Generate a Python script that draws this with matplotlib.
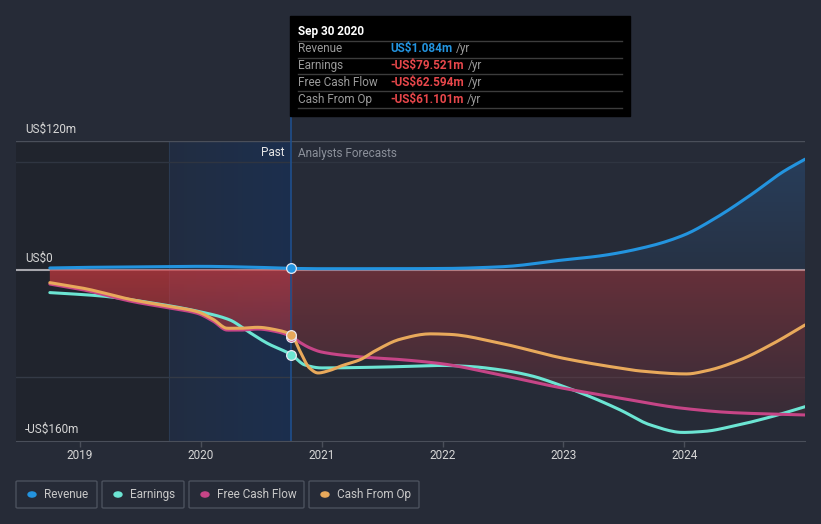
import numpy as np
import matplotlib.pyplot as plt
from matplotlib.patches import Rectangle, FancyBboxPatch
from matplotlib.lines import Line2D

plt.rcParams.update({
    "font.family": ["Roboto", "DejaVu Sans"],
    "font.size": 8.5,
})

W, H = 821, 524
BG = "#262b37"

# ------------------------------------------------------------
# data (decimal years, US$ m)
# ------------------------------------------------------------
rev_x = [2018.75, 2019.0, 2019.5, 2020.0, 2020.5, 2020.75, 2021.0, 2021.5, 2022.0,
         2022.5, 2023.0, 2023.3, 2023.72, 2024.0, 2024.27, 2024.55, 2024.82, 2025.0]
rev_y = [1.5, 2.0, 2.5, 3.0, 2.0, 1.084, 0.8, 0.8, 1.0,
         2.7, 9.0, 12.7, 22.0, 32.3, 48.8, 69.6, 91.4, 103.0]

earn_x = [2018.75, 2019.17, 2019.58, 2019.99, 2020.24, 2020.38, 2020.55, 2020.75,
          2020.86, 2021.0, 2021.5, 2022.0, 2022.23, 2022.48, 2022.73, 2023.0,
          2023.23, 2023.47, 2023.72, 2023.99, 2024.17, 2024.41, 2024.7, 2025.0]
earn_y = [-21.5, -24.6, -30.9, -39.3, -47.0, -57.0, -68.8, -79.521,
          -89.0, -91.8, -91.0, -89.5, -90.5, -93.6, -99.0, -109.0,
          -119.0, -131.0, -145.0, -152.0, -151.0, -146.0, -138.0, -128.0]

cfo_x = [2018.75, 2019.03, 2019.44, 2019.72, 2019.97, 2020.10, 2020.22, 2020.32,
         2020.47, 2020.63, 2020.75, 2020.82, 2020.90, 2020.97, 2021.07, 2021.16,
         2021.32, 2021.44, 2021.65, 2021.90, 2022.06, 2022.48, 2023.0, 2023.47,
         2023.64, 2024.02, 2024.19, 2024.46, 2024.74, 2025.0]
cfo_y = [-12.2, -17.5, -28.4, -34.0, -39.3, -46.3, -54.8, -54.8,
         -53.9, -56.4, -61.101, -76.0, -92.0, -96.5, -94.0, -90.0,
         -84.0, -76.0, -65.0, -60.0, -60.5, -68.8, -82.8, -92.0,
         -94.7, -97.4, -94.3, -84.4, -68.8, -51.7]

fcf_x = [2018.75, 2019.03, 2019.44, 2019.72, 2019.97, 2020.10, 2020.22, 2020.32,
         2020.47, 2020.63, 2020.75, 2020.82, 2020.90, 2021.0, 2021.32, 2021.65,
         2022.0, 2022.48, 2023.0, 2023.47, 2023.99, 2024.41, 2025.0]
fcf_y = [-13.5, -19.0, -30.0, -35.5, -40.8, -48.0, -56.5, -56.5,
         -55.5, -58.0, -62.594, -68.0, -73.0, -77.0, -81.5, -84.0,
         -88.0, -98.4, -110.8, -120.0, -129.5, -133.6, -135.7]

years = [2019, 2020, 2021, 2022, 2023, 2024]
now_x = 2020.747
past_start = 2019.74
x_min, x_max = 2018.47, 2025.0
y_min, y_max = -160, 120

C_REV = "#2394df"
C_EARN = "#6ce5d3"
C_FCF = "#c64587"
C_CFO = "#e8a95b"


def px(x, y):
    return x / W, 1 - y / H


def smooth(x, y, n=12):
    # monotone cubic (pchip) curve through the read points, for drawing only
    x = np.asarray(x, float)
    y = np.asarray(y, float)
    h = np.diff(x)
    d = np.diff(y) / h
    m = np.zeros_like(y)
    for k in range(1, len(x) - 1):
        if d[k - 1] * d[k] > 0:
            w1 = 2 * h[k] + h[k - 1]
            w2 = h[k] + 2 * h[k - 1]
            m[k] = (w1 + w2) / (w1 / d[k - 1] + w2 / d[k])
    m[0], m[-1] = d[0], d[-1]
    xs, ys = [], []
    for k in range(len(x) - 1):
        t = np.linspace(0, 1, n, endpoint=False)
        h00 = 2 * t**3 - 3 * t**2 + 1
        h10 = t**3 - 2 * t**2 + t
        h01 = -2 * t**3 + 3 * t**2
        h11 = t**3 - t**2
        xs.append(x[k] + t * h[k])
        ys.append(h00 * y[k] + h10 * h[k] * m[k] + h01 * y[k + 1]
                  + h11 * h[k] * m[k + 1])
    xs.append([x[-1]])
    ys.append([y[-1]])
    return np.concatenate(xs), np.concatenate(ys)


# ------------------------------------------------------------
# figure / axes
# ------------------------------------------------------------
fig = plt.figure(figsize=(W / 100, H / 100), dpi=100, facecolor=BG)
ax = fig.add_axes([16 / W, 1 - 441 / H, 789 / W, 300 / H], facecolor=BG)
ax.set_xlim(x_min, x_max)
ax.set_ylim(y_min, y_max)
for s in ["top", "right", "left"]:
    ax.spines[s].set_visible(False)
ax.spines["bottom"].set_color("#4a4f5a")
ax.set_yticks([])
ax.set_xticks(years)
ax.set_xticklabels([str(y) for y in years])
ax.tick_params(axis="x", colors="#4a4f5a", labelcolor="#d6d6d6",
               length=4, width=1, pad=2, labelsize=8.5)

# shaded regions
ax.axvspan(x_min, past_start, color="#20242d", lw=0, zorder=0)
grad = np.linspace(0, 1, 256).reshape(1, -1)
blue = np.zeros((1, 256, 4))
blue[..., 0] = 0.10
blue[..., 1] = 0.19
blue[..., 2] = 0.33
blue[..., 3] = 0.35 + 0.45 * grad
ax.imshow(blue, extent=[past_start, now_x, y_min, y_max], aspect="auto",
          zorder=0.5, interpolation="bilinear")
ax.axvline(past_start, color="#2a3a52", lw=0.8, zorder=0.6)

# grid lines
ax.axhline(120, color="#4a4f5a", lw=1, zorder=1)
ax.axhline(100, color="#2f3541", lw=1, zorder=1)
ax.axhline(-100, color="#343a46", lw=1, zorder=1)
ax.axhline(0, color="#a7a7ad", lw=1.5, zorder=1)

rx, ry = smooth(rev_x, rev_y)
ex, ey = smooth(earn_x, earn_y)
fx, fy = smooth(fcf_x, fcf_y)
cx, cy = smooth(cfo_x, cfo_y)

# red gradient fill (0 -> free cash flow)
poly = ax.fill_between(fx, 0, fy, color="none", lw=0)
xs = np.linspace(x_min, x_max, 400)
ys = np.linspace(y_max, y_min, 300)
XX, YY = np.meshgrid(xs, ys)
red = np.zeros((300, 400, 4))
red[..., 0] = 0.78
red[..., 1] = 0.22
red[..., 2] = 0.24
top_a = np.where(XX < now_x, 0.72, 0.40)
red[..., 3] = np.clip(top_a * (1 + YY / 190.0), 0.05, 1)
im = ax.imshow(red, extent=[x_min, x_max, y_min, y_max], aspect="auto",
               zorder=2, interpolation="bilinear")
im.set_clip_path(poly.get_paths()[0], transform=ax.transData)

# blue gradient fill (0 -> revenue)
rpoly = ax.fill_between(rx, 0, ry, color="none", lw=0)
bl = np.zeros((300, 400, 4))
bl[..., 0] = 0.17
bl[..., 1] = 0.36
bl[..., 2] = 0.58
bl[..., 3] = np.clip(0.15 + 0.25 * (YY / 110.0), 0.08, 0.5)
im2 = ax.imshow(bl, extent=[x_min, x_max, y_min, y_max], aspect="auto",
                zorder=2, interpolation="bilinear")
im2.set_clip_path(rpoly.get_paths()[0], transform=ax.transData)

# lines
kw = dict(lw=2.2, solid_joinstyle="round", solid_capstyle="round", zorder=3)
ax.plot(ex, ey, color=C_EARN, **kw)
ax.plot(fx, fy, color=C_FCF, **kw)
ax.plot(cx, cy, color=C_CFO, **kw)
ax.plot(rx, ry, color=C_REV, **kw)

# "now" line
ax.axvline(now_x, ymin=0, ymax=1 + 25 / 300, color="#1f4f8c", lw=1.2,
           zorder=2.5, clip_on=False)

# markers at Sep 30 2020
for val, col in [(rev_y[5], C_REV), (fcf_y[10], C_FCF),
                 (cfo_y[10], C_CFO), (earn_y[7], C_EARN)]:
    ax.plot(now_x, val, "o", ms=7, color=col, mec="#e8e8f0", mew=0.9, zorder=5)

# y labels
fig.text(*px(25, 129), "US$120m", color="#d6d6d6", va="center", ha="left")
fig.text(*px(25, 258), "US$0", color="#d6d6d6", va="center", ha="left")
fig.text(*px(25, 429), "-US$160m", color="#d6d6d6", va="center", ha="left")

fig.text(*px(284, 153), "Past", color="#e6e6e6", va="center", ha="right")
fig.text(*px(298, 153), "Analysts Forecasts", color="#8b909a",
         va="center", ha="left")

# ------------------------------------------------------------
# tooltip
# ------------------------------------------------------------
fig.patches.append(Rectangle(px(290, 116), 340 / W, 100 / H,
                             transform=fig.transFigure, color="#000000",
                             zorder=10))
fig.text(*px(298, 31), "Sep 30 2020", color="white", weight="bold",
         va="center", ha="left", zorder=11)
for yy in [40.7, 57.7, 74.3, 91.3, 108.3]:
    fig.lines.append(Line2D([298 / W, 622 / W], [1 - yy / H] * 2,
                            transform=fig.transFigure, color="#3c3c3c",
                            lw=1, zorder=11))
rows = [("Revenue", "US$1.084m", C_REV),
        ("Earnings", "-US$79.521m", "#e8474b"),
        ("Free Cash Flow", "-US$62.594m", "#e8474b"),
        ("Cash From Op", "-US$61.101m", "#e8474b")]
renderer = fig.canvas.get_renderer()
for i, (lab, val, col) in enumerate(rows):
    yc = 48.5 + i * 17
    fig.text(*px(298, yc), lab, color="#9a9a9a", va="center", ha="left",
             zorder=11)
    t = fig.text(*px(390, yc), val, color=col, weight="bold", va="center",
                 ha="left", zorder=11)
    bb = t.get_window_extent(renderer)
    fig.text(bb.x1 / W + 4 / W, 1 - yc / H, "/yr", color="#9a9a9a",
             va="center", ha="left", zorder=11)

# ------------------------------------------------------------
# legend
# ------------------------------------------------------------
legend = [("Revenue", C_REV, 16, 97), ("Earnings", C_EARN, 102, 184),
          ("Free Cash Flow", C_FCF, 189, 304), ("Cash From Op", C_CFO, 309, 419)]
for lab, col, x0, x1 in legend:
    fig.patches.append(FancyBboxPatch(px(x0, 508), (x1 - x0) / W, 27 / H,
                                      boxstyle="round,pad=0,rounding_size=0.002",
                                      transform=fig.transFigure, fc=BG,
                                      ec="#4b515d", lw=1))
    fig.patches.append(plt.Circle(px(x0 + 16, 494.5), 4 / W,
                                  transform=fig.transFigure, color=col))
    fig.text(*px(x0 + 28, 494.5), lab, color="#c8c8c8", va="center", ha="left")

fig.savefig("out.png", dpi=100, facecolor=BG)
